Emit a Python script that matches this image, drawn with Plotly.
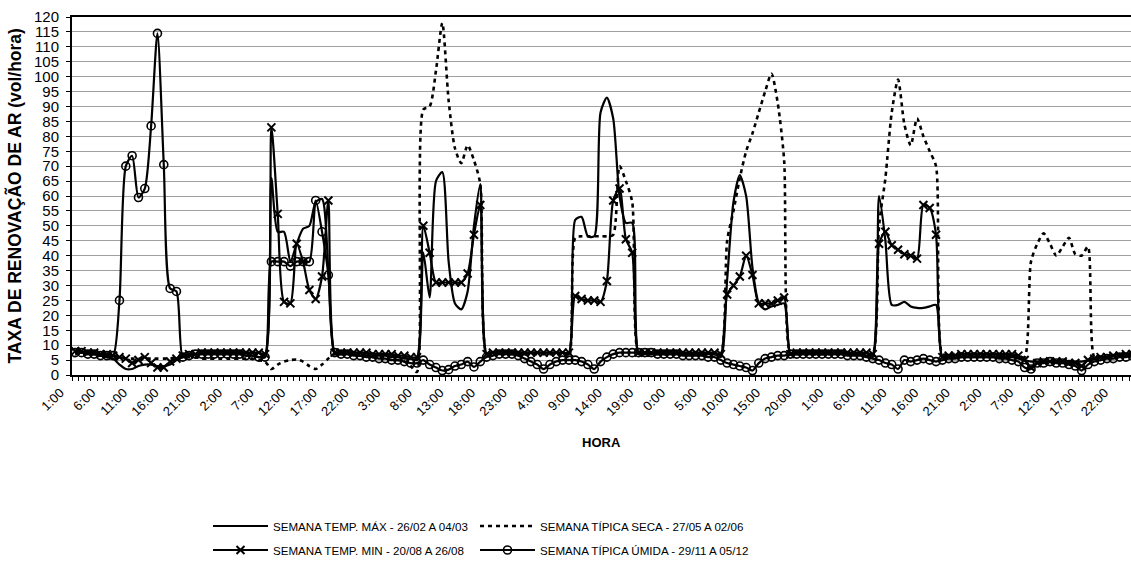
import plotly.graph_objects as go

# -- Datos: taxa de renovacao de ar (vol/hora), 168 horas (7 dias) --------------
# cada linha = um dia (1:00 ... 24:00)
TEMP_MAX = [
    7.5, 7.5, 7, 7, 6.5, 6, 5.5, 3.5, 2, 2, 3, 3.5, 3.5, 3, 3, 3.5, 5, 6, 6.5, 7, 7, 7, 7, 7,
    7, 7, 7, 6.5, 6.5, 6, 6, 66, 48, 48, 38, 44, 49, 50, 58, 59, 35, 7, 7, 7, 7, 6.5, 6.5, 6.5,
    6.5, 6.5, 6, 6, 5.5, 5.5, 5, 41, 26, 65, 68, 38, 24, 22, 28, 50, 64, 7, 7.5, 7.5, 7.5, 7.5, 7.5, 7.5,
    7.5, 7.5, 7.5, 7.5, 7.5, 7.5, 7, 52, 53, 46.5, 46.5, 88, 93, 86, 60, 51, 51, 7, 7, 7, 7, 7, 7, 7,
    7, 7, 7, 7, 7, 7, 6, 32, 58, 67, 60, 36, 24, 22, 23, 23.5, 24, 7, 7, 7, 7, 7, 7, 7,
    7, 7, 7, 7, 7, 6.5, 6, 60, 45, 23.5, 23.5, 24.5, 23, 22.5, 22.5, 23, 23.5, 6, 6, 6, 6, 6, 6, 6,
    6, 6, 6, 6, 6, 5.5, 5, 4.5, 4.5, 4.5, 4.5, 4.5, 4.5, 4.5, 4.5, 4.5, 5, 5.5, 6, 6, 6.5, 6.5, 7, 7,
]
TIPICA_SECA = [
    7, 7, 7, 7, 6.5, 6.5, 6, 6, 5.5, 5.5, 5.5, 5.5, 5.5, 5.5, 5.5, 5.5, 6, 6, 6, 6, 5.5, 5.5, 5.5, 5.5,
    5.5, 5.5, 5.5, 5.5, 5.5, 5, 4.5, 2, 3.5, 4.5, 5, 5.2, 4.5, 3, 2, 3.5, 5.5, 7, 7, 7, 7, 6.5, 6.5, 6,
    6, 5.5, 5, 5, 4.5, 3, 1, 89, 90, 102, 118, 92, 76, 71, 77, 72, 64, 7, 7, 7, 7, 7, 7, 7,
    7, 7, 7, 7, 7, 7, 6, 46, 46.5, 46.5, 46.5, 46.5, 46.5, 47, 70, 65, 58, 7, 7, 7, 7, 7, 7, 7,
    7, 7, 7, 7, 7, 7, 7, 45, 55, 66, 75, 81, 88, 95, 101, 91, 72, 7, 7, 7, 7, 7, 7, 7,
    7, 7, 7, 7, 7, 7, 7, 50, 66, 88, 99, 84, 77, 86, 80, 75, 70, 7, 7, 7, 7, 7, 7, 7,
    7, 7, 7, 6.5, 6.5, 6, 6, 38, 44, 47.5, 44, 40, 43, 46, 40.5, 40, 43, 6, 6, 6, 6.5, 6.5, 7, 7,
]
TEMP_MIN = [
    8, 8, 7.5, 7.5, 7, 7, 6.5, 6, 5.5, 4, 5, 6, 4, 2.5, 2.5, 4.5, 5.5, 6.5, 7, 7, 7.5, 7.5, 7.5, 7.5,
    7.5, 7.5, 7.5, 7.5, 7.5, 7.5, 7, 83, 54, 24.5, 24, 44, 38, 28.5, 25.5, 33, 58.5, 7.5, 7.5, 7.5, 7.5, 7.5, 7.5, 7,
    7, 7, 7, 6.5, 6.5, 6, 6, 50, 41, 31, 31, 31, 31, 31, 34, 47, 57, 7, 7.5, 7.5, 7.5, 7.5, 7.5, 7.5,
    7.5, 7.5, 7.5, 7.5, 7.5, 7.5, 7.5, 26.5, 25.5, 25, 25, 24.5, 31.5, 58.5, 62.5, 45.5, 41, 7.5, 7.5, 7.5, 7.5, 7.5, 7.5, 7.5,
    7.5, 7.5, 7.5, 7.5, 7.5, 7.5, 7, 27, 30, 33, 40, 33.5, 24, 24, 24, 25, 26, 7, 7.5, 7.5, 7.5, 7.5, 7.5, 7.5,
    7.5, 7.5, 7.5, 7.5, 7.5, 7.5, 7, 44, 48, 43.5, 42, 40.5, 40, 39, 57, 56, 47, 6, 6.5, 6.5, 7, 7, 7, 7,
    7, 7, 7, 7, 7, 6.5, 5, 2.5, 4, 4.5, 4.5, 4.5, 4.5, 4, 4, 3, 5, 5.5, 6, 6, 6.5, 6.5, 7, 7,
]
TIPICA_UMIDA = [
    7.5, 7.5, 7, 7, 6.5, 6.5, 6.5, 25, 70, 73.5, 59.5, 62.5, 83.5, 114.5, 70.5, 29, 28, 6, 6.5, 7, 7, 7, 7, 7,
    7, 7, 7, 6.5, 6.5, 6, 6, 38, 38, 38, 36.5, 38, 38, 38, 58.5, 48, 33.5, 7.5, 7, 7, 6.5, 6.5, 6, 6,
    5.5, 5.5, 5, 5, 4.5, 4, 4, 5, 3.5, 2.5, 1.5, 1.8, 3, 3.5, 4.5, 2.7, 4.5, 6, 6.5, 7, 7, 7, 6.5, 5.5,
    4.5, 3.5, 2, 3.5, 4.5, 5, 5, 5, 4.5, 3.5, 2, 4.5, 6, 7, 7.5, 7.5, 7.5, 7.5, 7.5, 7.5, 7, 7, 7, 7,
    6.5, 6.5, 6.5, 6.5, 6, 6, 5, 4, 3.5, 3, 2.5, 1.5, 4, 5.5, 6, 6.5, 6.5, 7, 7, 7, 7, 7, 7, 7,
    7, 7, 6.5, 6.5, 6.5, 6, 5.5, 5, 4, 3.5, 2, 5, 4.5, 5, 5.5, 5, 4.5, 5, 5.5, 5.5, 6, 6, 6, 6,
    6, 6, 5.5, 5.5, 5, 4.5, 2.5, 2, 4, 4, 4.5, 4, 4, 3.5, 3, 1.5, 3.5, 4.5, 5, 5.5, 5.5, 6, 6, 6.5,
]

HORAS_IDX = list(range(len(TEMP_MAX)))
TICK_POS = list(range(0, 168, 5))
TICK_TXT = ["1:00", "6:00", "11:00", "16:00", "21:00", "2:00", "7:00", "12:00", "17:00",
            "22:00", "3:00", "8:00", "13:00", "18:00", "23:00", "4:00", "9:00", "14:00",
            "19:00", "0:00", "5:00", "10:00", "15:00", "20:00", "1:00", "6:00", "11:00",
            "16:00", "21:00", "2:00", "7:00", "12:00", "17:00", "22:00"]

FONTE = "Liberation Sans, Arial, sans-serif"
SUAVE = 0.7

# -- Grafico -------------------------------------------------------------------
fig = go.Figure()

fig.add_trace(go.Scatter(
    x=HORAS_IDX, y=TEMP_MAX, mode="lines",
    name="SEMANA TEMP. MÁX - 26/02 A 04/03",
    line=dict(color="black", width=2.2, shape="spline", smoothing=SUAVE),
    legend="legend",
))
fig.add_trace(go.Scatter(
    x=HORAS_IDX, y=TIPICA_SECA, mode="lines",
    name="SEMANA TÍPICA SECA - 27/05 A 02/06",
    line=dict(color="black", width=2.6, dash="4px,4px", shape="spline", smoothing=SUAVE),
    legend="legend2",
))
fig.add_trace(go.Scatter(
    x=HORAS_IDX, y=TEMP_MIN, mode="lines+markers",
    name="SEMANA TEMP. MIN - 20/08 A 26/08",
    line=dict(color="black", width=2.2, shape="spline", smoothing=SUAVE),
    marker=dict(symbol="x-thin", size=8, line=dict(color="black", width=2)),
    legend="legend3",
))
fig.add_trace(go.Scatter(
    x=HORAS_IDX, y=TIPICA_UMIDA, mode="lines+markers",
    name="SEMANA TÍPICA ÚMIDA - 29/11 A 05/12",
    line=dict(color="black", width=2.2, shape="spline", smoothing=SUAVE),
    marker=dict(symbol="circle-open", size=8, color="black", line=dict(color="black", width=1.6)),
    legend="legend4",
))

# uma legenda por item: 2 colunas x 2 linhas como no original
leg = dict(orientation="h", xref="container", yref="container",
           xanchor="left", yanchor="middle",
           font=dict(family=FONTE, size=11.6, color="black"), itemwidth=55,
           bgcolor="rgba(0,0,0,0)")
COL1, COL2 = 208 / 1131, 475 / 1131
LIN1, LIN2 = 1 - 526 / 573, 1 - 550 / 573

fig.update_layout(
    width=1131, height=573,
    margin=dict(l=72, r=0, t=17, b=198, autoexpand=False),
    plot_bgcolor="white", paper_bgcolor="white",
    font=dict(family=FONTE, color="black"),
    showlegend=True,
    legend=dict(leg, x=COL1, y=LIN1),
    legend2=dict(leg, x=COL2, y=LIN1),
    legend3=dict(leg, x=COL1, y=LIN2),
    legend4=dict(leg, x=COL2, y=LIN2),
    xaxis=dict(
        range=[-0.5, 166.8], automargin=False,
        tickmode="array", tickvals=TICK_POS, ticktext=TICK_TXT,
        tickangle=-45, tickfont=dict(size=13, color="black"),
        ticklabelshift=-15, ticklabelstandoff=3,
        ticks="", showgrid=False, zeroline=False,
        showline=True, linecolor="black", linewidth=2, mirror=True,
        minor=dict(ticks="outside", tick0=-0.5, dtick=1, ticklen=4,
                   tickcolor="black", showgrid=False),
    ),
    yaxis=dict(
        range=[0, 120], dtick=5, tickfont=dict(size=15, color="black"), automargin=False,
        ticks="outside", ticklen=4, tickcolor="black", ticklabelstandoff=4,
        showgrid=True, gridcolor="#a0a0a0", gridwidth=1, zeroline=False,
        showline=True, linecolor="black", linewidth=2,
    ),
    annotations=[
        dict(text="<b>TAXA DE RENOVAÇÃO DE AR (vol/hora)</b>", textangle=-90,
             xref="paper", yref="paper", x=-0.067, y=0.5, showarrow=False,
             font=dict(size=17.5, family=FONTE)),
        dict(text="<b>HORA</b>", xref="paper", yref="paper", x=0.5, y=-0.215,
             showarrow=False, font=dict(size=13, family=FONTE)),
    ],
)

# sem a margem padrao do <body>, para a figura ocupar a janela exatamente
fig.write_html("out.html", config={"displayModeBar": False},
               post_script="document.body.style.margin='0';")
